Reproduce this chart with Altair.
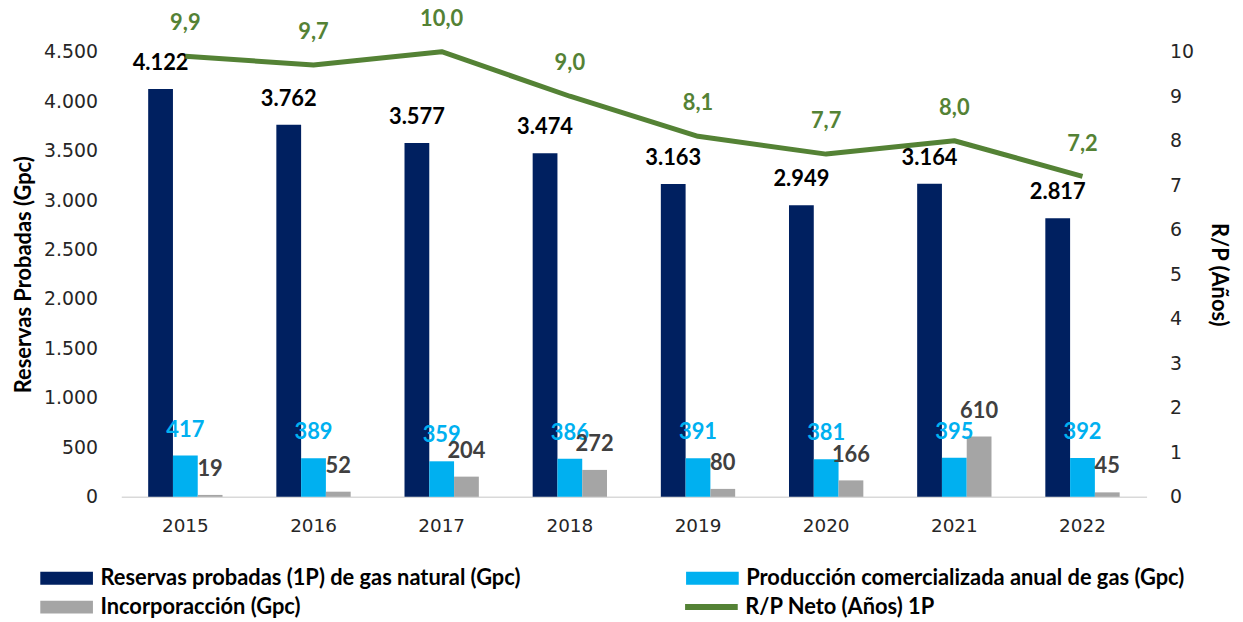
import altair as alt
import pandas as pd

years = ["2015", "2016", "2017", "2018", "2019", "2020", "2021", "2022"]
reservas = [4122, 3762, 3577, 3474, 3163, 2949, 3164, 2817]
produccion = [417, 389, 359, 386, 391, 381, 395, 392]
incorporacion = [19, 52, 204, 272, 80, 166, 610, 45]
rp_neto = [9.9, 9.7, 10.0, 9.0, 8.1, 7.7, 8.0, 7.2]

series_names = [
    "Reservas probadas (1P) de gas natural (Gpc)",
    "Producción comercializada anual de gas (Gpc)",
    "Incorporacción (Gpc)",
]
line_name = "R/P Neto (Años) 1P"

bar_colors = ["#002060", "#00B0F0", "#A5A5A5"]
text_colors = ["#000000", "#00B0F0", "#404040"]
line_color = "#548235"
FONT = "Lato"
TICK_FONT = "DejaVu Sans"

rows = []
for name, vals in zip(series_names, [reservas, produccion, incorporacion]):
    for y, v in zip(years, vals):
        rows.append({"year": y, "series": name, "value": v})
df_bars = pd.DataFrame(rows)
df_line = pd.DataFrame({"year": years, "rp": rp_neto, "name": line_name})

x_axis = alt.Axis(title=None, labelAngle=0, ticks=False, domainColor="#D9D9D9",
                  domainWidth=1.5, labelPadding=20, labelFontSize=18.5, labelFont=TICK_FONT,
                  grid=False)
x_scale = alt.Scale(domain=years, paddingInner=0.42, paddingOuter=0.21)
x_enc = alt.X("year:N", scale=x_scale, axis=x_axis)
xoff = alt.XOffset("series:N", scale=alt.Scale(domain=series_names, paddingInner=0, paddingOuter=0))
y_bar = alt.Y("value:Q", scale=alt.Scale(domain=[0, 4500], nice=False),
              axis=alt.Axis(values=list(range(0, 4501, 500)),
                            labelExpr="replace(format(datum.value, ','), ',', '.')",
                            title="Reservas Probadas (Gpc)", grid=False, domain=False,
                            ticks=False, labelPadding=24, labelFontSize=19, labelFont=TICK_FONT,
                            titleFontSize=22, titleFontWeight="bold", titlePadding=8))

bars = alt.Chart(df_bars).mark_bar().encode(
    x=x_enc,
    xOffset=xoff,
    y=y_bar,
    color=alt.Color("series:N", scale=alt.Scale(domain=series_names, range=bar_colors),
                    legend=alt.Legend(orient="none", legendX=-87, legendY=519, title=None,
                                      direction="horizontal", columns=2, columnPadding=160,
                                      rowPadding=7,
                                      symbolType="M-1,-1.18H8.636V1.18H-1Z", symbolSize=121,
                                      symbolStrokeWidth=0, labelOffset=44, labelFontSize=22,
                                      labelFontWeight="bold", labelFont=FONT, labelColor="black",
                                      labelLimit=800, padding=0)),
)

texts = []
for name, tc in zip(series_names, text_colors):
    t = alt.Chart(df_bars).transform_filter(
        alt.datum.series == name
    ).transform_calculate(
        label="replace(format(datum.value, ','), ',', '.')"
    ).mark_text(color=tc, fontWeight="bold", fontSize=22, font=FONT, baseline="middle",
                dy=-26).encode(
        x=x_enc, xOffset=xoff, y=alt.Y("value:Q"), text="label:N"
    )
    texts.append(t)

y_line = alt.Y("rp:Q", scale=alt.Scale(domain=[0, 10], nice=False),
               axis=alt.Axis(orient="right", values=list(range(0, 11)), title="R/P (Años)",
                             titleAngle=90, grid=False, domain=False, ticks=False,
                             labelPadding=23, labelFontSize=19, labelFont=TICK_FONT,
                             titleFontSize=22, titleFontWeight="bold", titlePadding=13))

line = alt.Chart(df_line).mark_line(strokeWidth=5, strokeJoin="round").encode(
    x=x_enc,
    y=y_line,
    stroke=alt.Stroke("name:N", scale=alt.Scale(domain=[line_name], range=[line_color]),
                      legend=alt.Legend(orient="none", legendX=562, legendY=548, title=None,
                                        symbolType="M-1,0H8.636", symbolSize=121,
                                        symbolStrokeWidth=6, labelOffset=44, labelFontSize=22,
                                        labelFontWeight="bold", labelFont=FONT,
                                        labelColor="black", labelLimit=800, padding=0)),
)
line_text = alt.Chart(df_line).transform_calculate(
    label="replace(format(datum.rp, '.1f'), '.', ',')"
).mark_text(color=line_color, fontWeight="bold", fontSize=22, font=FONT, baseline="middle",
            dy=-33).encode(x=x_enc, y=alt.Y("rp:Q"), text="label:N")

chart = alt.layer(
    alt.layer(bars, *texts),
    alt.layer(line, line_text),
).resolve_scale(y="independent").properties(
    width=1032, height=448,
    autosize=alt.AutoSizeParams(type="none"),
    padding={"left": 114, "top": 42, "right": 89, "bottom": 124},
).configure_view(stroke=None).configure_axis(
    titleFont=FONT, labelColor="#262626", titleColor="#000000"
)

chart.save("out.html", embed_options={"renderer": "svg", "actions": False})
